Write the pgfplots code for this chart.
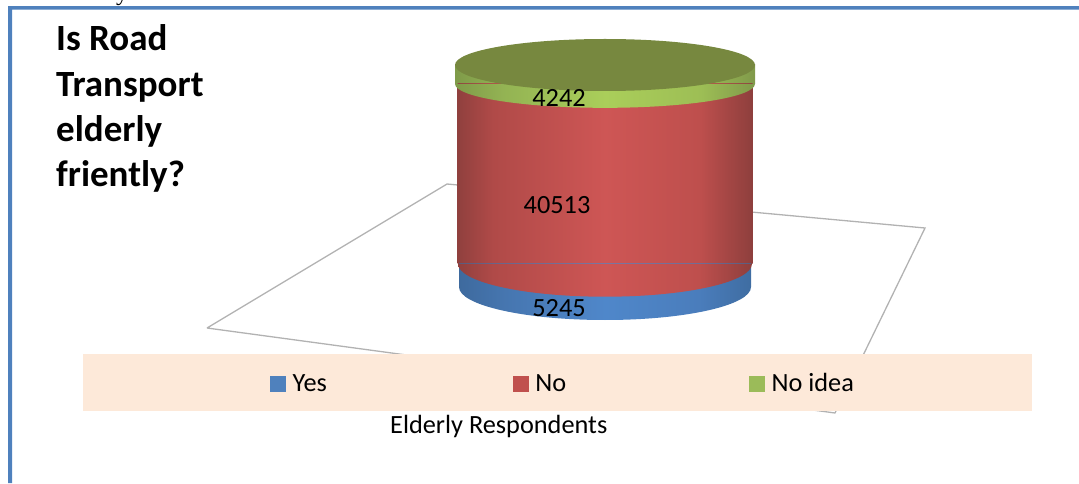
\documentclass[border=0pt]{standalone}
\usepackage{pgfplots}
\pgfplotsset{compat=1.18}
\usepackage{fontspec}
\setmainfont{Carlito}
\newfontfamily\serifbit{Liberation Serif}
\definecolor{frameblue}{HTML}{4F81BD}
\definecolor{legfill}{HTML}{FDE9D9}
\definecolor{swblue}{HTML}{4F81BD}
\definecolor{swred}{HTML}{C0504D}
\definecolor{swgreen}{HTML}{9BBB59}
\definecolor{topc}{HTML}{77883F}
\definecolor{ra}{HTML}{90403E}\definecolor{rb}{HTML}{B04A48}\definecolor{rc}{HTML}{CE5655}\definecolor{rd}{HTML}{BE4F4D}\definecolor{re}{HTML}{8E3F3D}
\definecolor{ba}{HTML}{3E6A9E}\definecolor{bb}{HTML}{4676B0}\definecolor{bc}{HTML}{4F87CA}\definecolor{bd}{HTML}{4A7DBC}\definecolor{be}{HTML}{3F6DA2}
\definecolor{ga}{HTML}{7F9B49}\definecolor{gb}{HTML}{93B353}\definecolor{gc}{HTML}{AACE5A}\definecolor{gd}{HTML}{9DBE55}\definecolor{ge}{HTML}{80994A}
\pgfdeclarehorizontalshading{redcyl}{100bp}{color(0bp)=(ra);color(25bp)=(ra);color(31bp)=(rb);color(50bp)=(rc);color(66bp)=(rd);color(75bp)=(re);color(100bp)=(re)}
\pgfdeclarehorizontalshading{bluecyl}{100bp}{color(0bp)=(ba);color(25bp)=(ba);color(33bp)=(bb);color(50bp)=(bc);color(66bp)=(bd);color(75bp)=(be);color(100bp)=(be)}
\pgfdeclarehorizontalshading{greencyl}{100bp}{color(0bp)=(ga);color(25bp)=(ga);color(33bp)=(gb);color(50bp)=(gc);color(66bp)=(gd);color(75bp)=(ge);color(100bp)=(ge)}
\pgfdeclareplotmark{capblue}{\shade[draw=none,shading=bluecyl] (-146pt,0pt) arc[start angle=180,end angle=360,x radius=146pt,y radius=33pt] -- cycle;}
\pgfdeclareplotmark{capred}{\shade[draw=none,shading=redcyl] (-147pt,0pt) arc[start angle=180,end angle=360,x radius=147pt,y radius=33pt] -- cycle;}
\pgfdeclareplotmark{capgreen}{\shade[draw=none,shading=greencyl] (-150pt,0pt) arc[start angle=180,end angle=360,x radius=150pt,y radius=24pt] -- cycle;}
\pgfdeclareplotmark{topface}{\fill[draw=none,topc] (0pt,0pt) ellipse [x radius=150pt,y radius=26pt];}
\pgfplotsset{base/.style={at={(0,0)},anchor=south west,width=1079pt,height=483pt,scale only axis,hide axis,xmin=0,xmax=1079,clip=false}}
\newcommand{\txt}{\fontsize{26.3pt}{30pt}\selectfont}
\newcommand{\ttl}{\fontsize{37pt}{44pt}\selectfont\bfseries}
\begin{document}
\begin{tikzpicture}
\useasboundingbox (0,0) rectangle (1079pt,483pt);
\clip (0,0) rectangle (1079pt,483pt);
% background layer, in pixel coordinates
\begin{axis}[base,ymin=0,ymax=483,y dir=reverse]
\addplot[draw=none,fill=frameblue,forget plot] coordinates {(8,6)(1079,6)(1079,9.5)(12,9.5)(12,483)(8,483)} -- cycle;
\addplot[color=black!30,line width=1.3pt,forget plot] coordinates {(207,328)(447,184)(925,228)(835,413)(207,328)};
\addplot[draw=none,fill=legfill,forget plot] coordinates {(83,354)(1032,354)(1032,411)(83,411)} -- cycle;
\node[anchor=base west,inner sep=0pt,font=\ttl] at (axis cs:56,50) {Is Road};
\node[anchor=base west,inner sep=0pt,font=\ttl] at (axis cs:56,96) {Transport};
\node[anchor=base west,inner sep=0pt,font=\ttl] at (axis cs:56,141) {elderly};
\node[anchor=base west,inner sep=0pt,font=\ttl] at (axis cs:56,186) {friently?};
\node[anchor=base west,inner sep=0pt,font=\txt] at (axis cs:390,433) {Elderly Respondents};
\node[anchor=base west,inner sep=0pt,font=\serifbit\fontsize{24pt}{28pt}\selectfont] at (axis cs:116,0) {y};
\end{axis}
% cylinder body, stacked respondents
\begin{axis}[base,ymin=-44144,ymax=64640,ybar stacked]
\addplot[bar width=292pt,bar shift=0pt,draw=none,shade,shading=bluecyl,forget plot] coordinates {(605,5245)};
\addplot[bar width=295pt,bar shift=0pt,draw=none,shade,shading=redcyl,forget plot] coordinates {(605,40513)};
\addplot[bar width=300pt,bar shift=0pt,draw=none,shade,shading=greencyl,forget plot] coordinates {(605,4242)};
\end{axis}
% ellipse caps at the cumulative totals, data labels, legend
\begin{axis}[base,ymin=-44144,ymax=64640,
  legend columns=3,
  legend style={draw=none,fill=none,at={(axis cs:267,-21700)},anchor=west,font=\txt},
  legend cell align=left]
\addplot[only marks,mark=capblue,mark options={draw=none},forget plot] coordinates {(605,0)};
\addplot[only marks,mark=capred,mark options={draw=none},forget plot] coordinates {(605,5245)};
\addplot[only marks,mark=capgreen,mark options={draw=none},forget plot] coordinates {(605,45758)};
\addplot[only marks,mark=topface,mark options={draw=none},forget plot] coordinates {(605,50000)};
\addplot[draw=none,mark=none,forget plot,nodes near coords,point meta=explicit symbolic,
  nodes near coords style={anchor=center,inner sep=0pt,font=\txt}]
  coordinates {(559,-4730)[5245] (557,18468)[40513] (559,42568)[4242]};
\addlegendimage{legend image code/.code={\fill[swblue] (0pt,-7.5pt) rectangle (15pt,7.5pt);}}
\addlegendentry{\rule{5pt}{0pt}Yes\rule{184pt}{0pt}}
\addlegendimage{legend image code/.code={\fill[swred] (0pt,-7.5pt) rectangle (15pt,7.5pt);}}
\addlegendentry{\rule{5pt}{0pt}No\rule{181pt}{0pt}}
\addlegendimage{legend image code/.code={\fill[swgreen] (0pt,-7.5pt) rectangle (15pt,7.5pt);}}
\addlegendentry{\rule{5pt}{0pt}No idea}
\end{axis}
\end{tikzpicture}
\end{document}
